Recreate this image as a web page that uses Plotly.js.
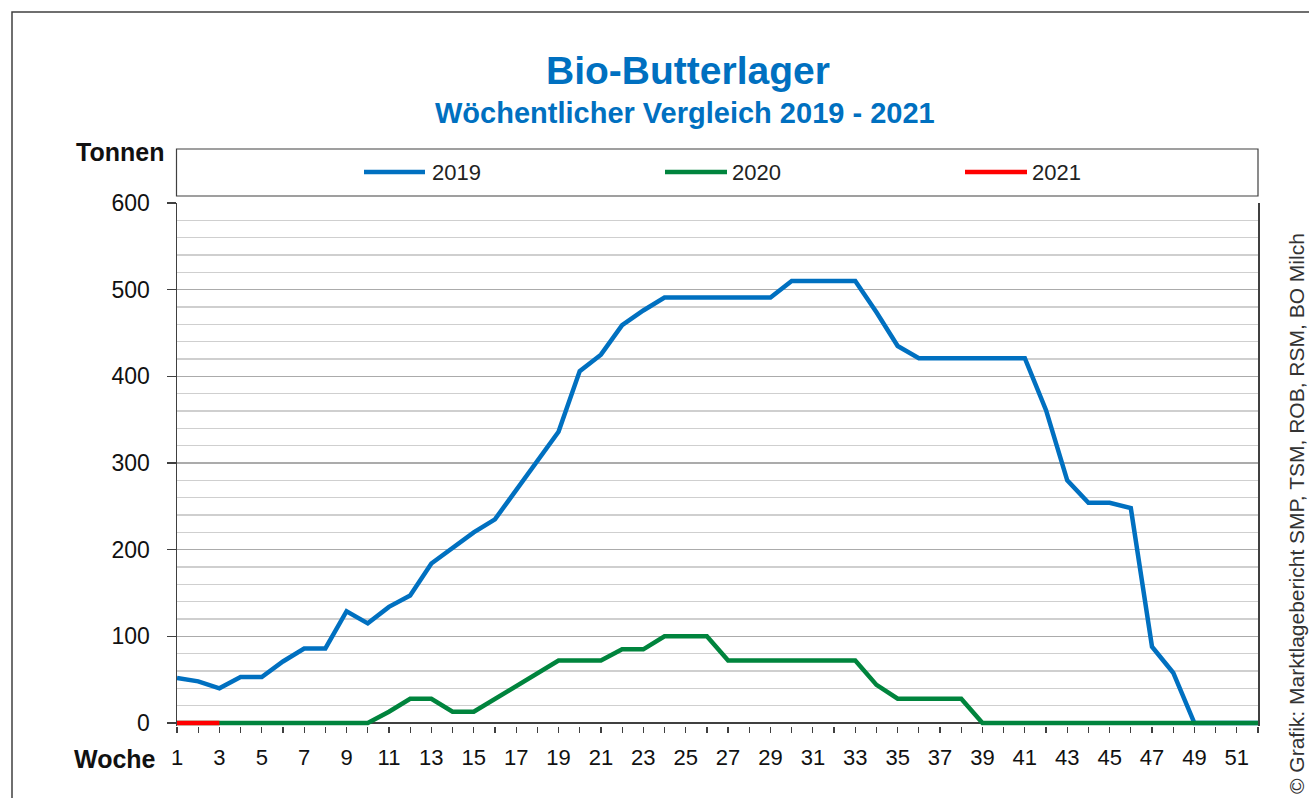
<!DOCTYPE html>
<html>
<head>
<meta charset="utf-8">
<script src="https://cdn.plot.ly/plotly-3.0.1.min.js"></script>
<style>
html,body{margin:0;padding:0;background:#fff;}
#chart{width:1309px;height:798px;}
</style>
</head>
<body>
<div id="chart"></div>
<script>
const weeks = [1,2,3,4,5,6,7,8,9,10,11,12,13,14,15,16,17,18,19,20,21,22,23,24,25,26,27,28,29,30,31,32,33,34,35,36,37,38,39,40,41,42,43,44,45,46,47,48,49,50,51,52];
const values2019 = [52,48,40,53,53,71,86,86,129,115,134,147,184,202,220,235,268,301,336,406,425,459,476,491,491,491,491,491,491,510,510,510,510,474,435,421,421,421,421,421,421,361,280,254,254,248,88,58,0,0,0,0];
const values2020 = [0,0,0,0,0,0,0,0,0,0,13,28,28,13,13,28,42,58,72,72,72,85,85,100,100,100,72,72,72,72,72,72,72,44,28,28,28,28,0,0,0,0,0,0,0,0,0,0,0,0,0,0];
const weeks2021 = [1,2,3];
const values2021 = [0,0,0];
const seriesNames = ["2019","2020","2021"];
const seriesColors = ["#0070C0","#00843D","#FF0000"];
const xTickLabels = weeks.map(w => (w % 2 === 1 ? String(w) : ""));
const yTickValues = [0,100,200,300,400,500,600];
const titleText = "Bio-Butterlager";
const subtitleText = "Wöchentlicher Vergleich 2019 - 2021";
const yLabel = "Tonnen";
const xLabel = "Woche";
const sourceText = "© Grafik: Marktlagebericht SMP, TSM, ROB, RSM, BO Milch";

const FONT = "Liberation Sans, Arial, sans-serif";
const L = 177, R = 1258, T = 203, B = 726;   // B: plot bottom (slightly below the zero line)
const px = x => (x - L) / (R - L);
const py = y => (B - y) / (B - T);

const traces = [
  {x: weeks, y: values2019, name: seriesNames[0], type: "scatter", mode: "lines",
   line: {color: seriesColors[0], width: 4.5}, hoverinfo: "x+y"},
  {x: weeks, y: values2020, name: seriesNames[1], type: "scatter", mode: "lines",
   line: {color: seriesColors[1], width: 4.5}, hoverinfo: "x+y"},
  {x: weeks2021, y: values2021, name: seriesNames[2], type: "scatter", mode: "lines",
   line: {color: seriesColors[2], width: 4.5}, hoverinfo: "x+y"}
];

const legendLineX = [[364,425],[665,727],[965,1027]];
const legendTextX = [430,730,1030];
const shapes = [
  {type:"rect", xref:"paper", yref:"paper", x0:px(12), x1:px(1330), y0:py(830), y1:py(12),
   line:{color:"#404040", width:1.5}, fillcolor:"rgba(0,0,0,0)", layer:"below"},
  {type:"rect", xref:"paper", yref:"paper", x0:px(176.5), x1:px(1258), y0:py(196), y1:py(149),
   line:{color:"#404040", width:1.2}, fillcolor:"rgba(0,0,0,0)"}
];
const annotations = [
  {text:"<b>"+titleText+"</b>", xref:"paper", yref:"paper", x:px(688), y:py(70), xanchor:"center", yanchor:"middle",
   showarrow:false, font:{family:FONT, size:39, color:"#0070C0"}},
  {text:"<b>"+subtitleText+"</b>", xref:"paper", yref:"paper", x:px(685), y:py(113), xanchor:"center", yanchor:"middle",
   showarrow:false, font:{family:FONT, size:29, color:"#0070C0"}},
  {text:"<b>"+yLabel+"</b>", xref:"paper", yref:"paper", x:px(166), y:py(152), xanchor:"right", yanchor:"middle",
   showarrow:false, font:{family:FONT, size:25, color:"#111"}},
  {text:"<b>"+xLabel+"</b>", xref:"paper", yref:"paper", x:px(158), y:py(759), xanchor:"right", yanchor:"middle",
   showarrow:false, font:{family:FONT, size:25, color:"#111"}},
  {text:sourceText, xref:"paper", yref:"paper", x:px(1296), y:py(514), xanchor:"center", yanchor:"middle",
   textangle:-90, showarrow:false, font:{family:FONT, size:21, color:"#333"}}
];
for (let i = 0; i < 3; i++) {
  shapes.push({type:"line", xref:"paper", yref:"paper", x0:px(legendLineX[i][0]), x1:px(legendLineX[i][1]),
    y0:py(172), y1:py(172), line:{color:seriesColors[i], width:4.5}});
  annotations.push({text:seriesNames[i], xref:"paper", yref:"paper", x:px(legendTextX[i]), y:py(172),
    xanchor:"left", yanchor:"middle", showarrow:false, font:{family:FONT, size:22, color:"#222"}});
}

const yPad = 600 * 3 / 520;
const layout = {
  width:1309, height:798,
  margin:{l:L, r:1309-R, t:T, b:798-B, pad:0},
  paper_bgcolor:"#fff", plot_bgcolor:"#fff",
  showlegend:false,
  font:{family:FONT, color:"#111"},
  xaxis:{range:[1,52], tickmode:"array", tickvals:weeks, ticktext:xTickLabels,
    ticks:"outside", ticklen:6, tickwidth:1.2, tickcolor:"#404040",
    showgrid:false, zeroline:false, showline:false,
    tickfont:{family:FONT, size:22, color:"#111"}, ticklabelstandoff:6, fixedrange:true},
  yaxis:{range:[-yPad,600], tickmode:"array", tickvals:yTickValues, ticks:"outside", ticklen:9, tickwidth:1.2, tickcolor:"#404040",
    showgrid:true, gridcolor:"#ababab", gridwidth:1.2,
    zeroline:true, zerolinecolor:"#404040", zerolinewidth:1.5,
    showline:true, mirror:true, linecolor:"#404040", linewidth:1.5,
    minor:{tick0:0, dtick:20, showgrid:true, gridcolor:"#cfcfcf", gridwidth:1.2, ticks:""},
    tickfont:{family:FONT, size:23, color:"#111"}, ticklabelstandoff:12, fixedrange:true},
  shapes:shapes,
  annotations:annotations
};

Plotly.newPlot("chart", traces, layout, {displayModeBar:false, staticPlot:true});
</script>
</body>
</html>
